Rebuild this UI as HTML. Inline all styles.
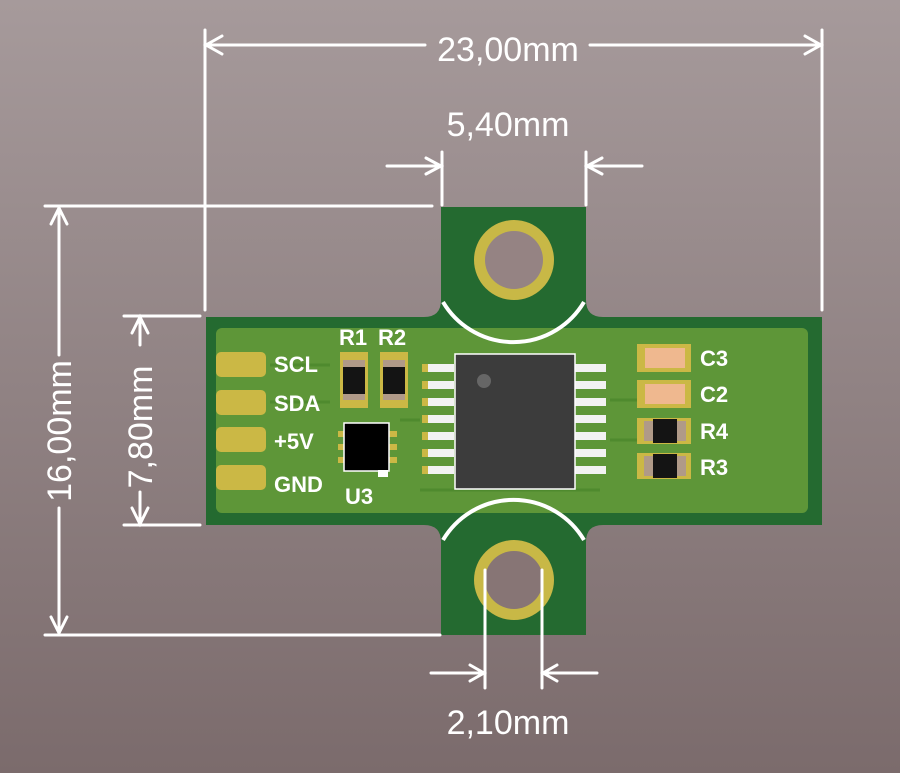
<!DOCTYPE html>
<html><head><style>
html,body{margin:0;padding:0;width:900px;height:773px;overflow:hidden;}
svg{display:block}
.d{font-family:"Liberation Sans",sans-serif;font-size:34px;fill:#fff;}
.l{font-family:"Liberation Sans",sans-serif;font-size:22px;font-weight:bold;fill:#fff;}
</style></head><body>
<svg width="900" height="773" viewBox="0 0 900 773" xmlns="http://www.w3.org/2000/svg">
<defs>
<linearGradient id="bg" x1="0" y1="0" x2="0" y2="1">
<stop offset="0" stop-color="#a69a9b"/><stop offset="1" stop-color="#7b6b6c"/>
</linearGradient>
</defs>
<rect width="900" height="773" fill="url(#bg)"/>
<path d="M441,207 H586 V300 Q586,317 603,317 H822 V525 H603 Q586,525 586,542 V635 H441 V542 Q441,525 424,525 H206 V317 H424 Q441,317 441,300 Z" fill="#246a30"/>
<rect x="216" y="328" width="592" height="185" rx="6" fill="#5e9638"/>
<g stroke="#4f8a2e" stroke-width="3" fill="none">
<path d="M270,365 H330 M270,402 H330 M400,420 H420 M610,400 H640 M610,440 H640 M420,490 H600"/>
</g>
<circle cx="514" cy="260" r="40" fill="#c8b846"/><circle cx="514" cy="260" r="29" fill="#958383"/>
<circle cx="514" cy="580" r="40" fill="#c8b846"/><circle cx="514" cy="580" r="29" fill="#877575"/>
<path d="M443,302 A82,82 0 0 0 584,302" stroke="#fff" stroke-width="4" fill="none"/>
<path d="M443,540 A82,82 0 0 1 584,540" stroke="#fff" stroke-width="4" fill="none"/>
<g fill="#cbb845">
<rect x="216" y="352" width="50" height="25" rx="5"/>
<rect x="216" y="390" width="50" height="25" rx="5"/>
<rect x="216" y="427" width="50" height="25" rx="5"/>
<rect x="216" y="465" width="50" height="25" rx="5"/>
</g>
<text class="l" x="274" y="372">SCL</text>
<text class="l" x="274" y="411">SDA</text>
<text class="l" x="274" y="449">+5V</text>
<text class="l" x="274" y="492">GND</text>
<g>
<rect x="340" y="352" width="28" height="56" fill="#cbb845"/>
<rect x="343" y="360" width="22" height="40" fill="#b09a88"/>
<rect x="343" y="367" width="22" height="27" fill="#141414"/>
<rect x="380" y="352" width="28" height="56" fill="#cbb845"/>
<rect x="383" y="360" width="22" height="40" fill="#b09a88"/>
<rect x="383" y="367" width="22" height="27" fill="#141414"/>
</g>
<text class="l" x="339" y="345">R1</text>
<text class="l" x="378" y="345">R2</text>
<g fill="#cbb845">
<rect x="338" y="431" width="8" height="6"/><rect x="338" y="444" width="8" height="6"/><rect x="338" y="457" width="8" height="6"/>
<rect x="389" y="431" width="8" height="6"/><rect x="389" y="444" width="8" height="6"/><rect x="389" y="457" width="8" height="6"/>
</g>
<rect x="344" y="423" width="45" height="48" fill="#000" stroke="#fff" stroke-width="1.5"/>
<rect x="378" y="470" width="10" height="7" fill="#fff"/>
<text class="l" x="345" y="504">U3</text>
<g fill="#f2f2f2">
<rect x="424" y="364" width="30" height="8"/><rect x="424" y="381" width="30" height="8"/><rect x="424" y="398" width="30" height="8"/><rect x="424" y="415" width="30" height="8"/><rect x="424" y="432" width="30" height="8"/><rect x="424" y="449" width="30" height="8"/><rect x="424" y="466" width="30" height="8"/>
<rect x="574" y="364" width="32" height="8"/><rect x="574" y="381" width="32" height="8"/><rect x="574" y="398" width="32" height="8"/><rect x="574" y="415" width="32" height="8"/><rect x="574" y="432" width="32" height="8"/><rect x="574" y="449" width="32" height="8"/><rect x="574" y="466" width="32" height="8"/>
</g>
<g fill="#cbb845">
<rect x="422" y="364" width="6" height="8"/><rect x="422" y="381" width="6" height="8"/><rect x="422" y="398" width="6" height="8"/><rect x="422" y="415" width="6" height="8"/><rect x="422" y="432" width="6" height="8"/><rect x="422" y="449" width="6" height="8"/><rect x="422" y="466" width="6" height="8"/>
</g>
<rect x="455" y="354" width="120" height="135" fill="#3c3c3c" stroke="#fff" stroke-width="1.5"/>
<circle cx="484" cy="381" r="7" fill="#666"/>
<g>
<rect x="637" y="344" width="54" height="28" fill="#cbb845"/><rect x="645" y="348" width="40" height="20" fill="#efb88f"/>
<rect x="637" y="380" width="54" height="28" fill="#cbb845"/><rect x="645" y="384" width="40" height="20" fill="#efb88f"/>
<rect x="637" y="418" width="54" height="26" fill="#cbb845"/><rect x="644" y="421" width="42" height="20" fill="#b09a88"/><rect x="653" y="419" width="24" height="24" fill="#141414"/>
<rect x="637" y="453" width="54" height="26" fill="#cbb845"/><rect x="644" y="456" width="42" height="20" fill="#b09a88"/><rect x="653" y="454" width="24" height="24" fill="#141414"/>
</g>
<text class="l" x="700" y="366">C3</text>
<text class="l" x="700" y="402">C2</text>
<text class="l" x="700" y="439">R4</text>
<text class="l" x="700" y="475">R3</text>
<g stroke="#fff" stroke-width="3" fill="none" stroke-linecap="round">
<path d="M205,30 V310 M822,30 V310"/>
<path d="M205,45 H425 M590,45 H822"/>
<path d="M222,36 L206,45 L222,54 M805,36 L821,45 L805,54"/>
<path d="M442,152 V205 M586,152 V205"/>
<path d="M387,166 H440 M426,158 L441,166 L426,174 M642,166 H588 M602,158 L587,166 L602,174"/>
<path d="M45,206 H432 M45,635 H440"/>
<path d="M59,207 V355 M59,508 V634 M51,224 L59,208 L67,224 M51,617 L59,633 L67,617"/>
<path d="M124,316 H200 M124,525 H200"/>
<path d="M140,317 V345 M132,333 L140,317 L148,333 M140,492 V524 M132,508 L140,524 L148,508"/>
<path d="M485,570 V688 M542,570 V688"/>
<path d="M431,673 H484 M470,665 L484,673 L470,681 M597,673 H543 M557,665 L543,673 L557,681"/>
</g>
<text class="d" x="508" y="61" text-anchor="middle">23,00mm</text>
<text class="d" x="508" y="136" text-anchor="middle">5,40mm</text>
<text class="d" x="508" y="734" text-anchor="middle">2,10mm</text>
<text class="d" transform="translate(71,431) rotate(-90)" text-anchor="middle">16,00mm</text>
<text class="d" transform="translate(152,427) rotate(-90)" text-anchor="middle">7,80mm</text>
</svg>
</body></html>
